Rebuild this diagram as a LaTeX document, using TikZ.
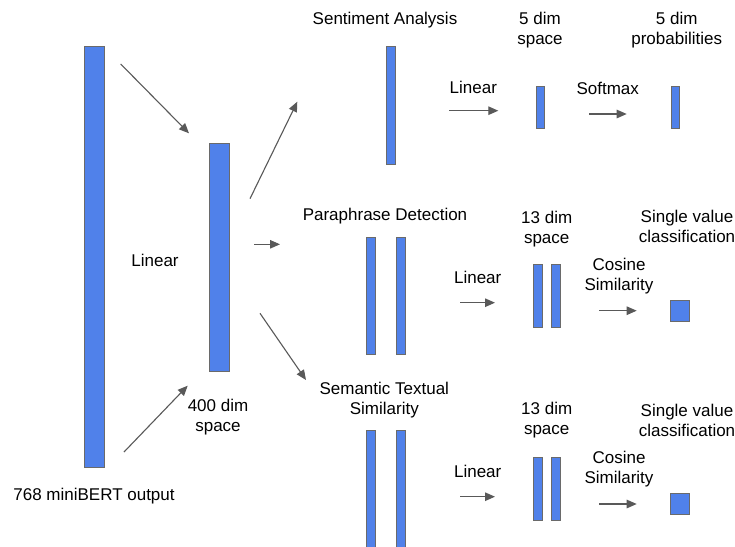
\documentclass[tikz,border=0pt]{standalone}
\usepackage{fontspec}
\setmainfont{Liberation Sans}
\usetikzlibrary{arrows.meta}
\definecolor{barblue}{HTML}{5081EA}
\definecolor{barline}{HTML}{6A6A6A}
\definecolor{arrgray}{HTML}{595959}
\begin{document}
\begin{tikzpicture}[x=1pt,y=-1pt,
  bar/.style={draw=barline,line width=0.9pt,fill=barblue,inner sep=0pt,outer sep=0pt},
  lbl/.style={align=center,inner sep=0pt,font=\fontsize{17}{20}\selectfont},
  arr/.style={draw=arrgray,line width=1.1pt,-{Triangle[length=10pt,width=8.5pt]}}]
\clip (0,0) rectangle (735,546);
\fill[white] (0,0) rectangle (735,546);
% bars
\node[bar,minimum width=20,minimum height=421] (b768) at (94,256.5) {};
\node[bar,minimum width=20,minimum height=228] (b400) at (219,257) {};
\node[bar,minimum width=8.5,minimum height=118] (sa) at (391,105) {};
\node[bar,minimum width=8.7,minimum height=42.7] (saf) at (540.3,107.3) {};
\node[bar,minimum width=8.4,minimum height=42.7] (sap) at (675.5,107.3) {};
\node[bar,minimum width=9,minimum height=117.3] (pd1) at (371.2,295.7) {};
\node[bar,minimum width=9,minimum height=117.3] (pd2) at (400.5,295.7) {};
\node[bar,minimum width=9,minimum height=63] (pda) at (537.8,295.5) {};
\node[bar,minimum width=9,minimum height=63] (pdb) at (555.5,295.5) {};
\node[bar,minimum width=19.3,minimum height=21.4] (pdsq) at (679.7,311) {};
\node[bar,minimum width=9,minimum height=130] (st1) at (371.2,495) {};
\node[bar,minimum width=9,minimum height=130] (st2) at (400.5,495) {};
\node[bar,minimum width=9,minimum height=63.4] (sta) at (537.8,489) {};
\node[bar,minimum width=9,minimum height=63.4] (stb) at (555.5,489) {};
\node[bar,minimum width=19.3,minimum height=21] (stsq) at (679.7,503.8) {};
% labels
\node[lbl] (t768) at (94,496) {768 miniBERT output};
\node[lbl] (tlin0) at (155,260) {Linear};
\node[lbl] (t400) at (218,416.7) {400 dim\\space};
\node[lbl] (tsa) at (385,20) {Sentiment Analysis};
\node[lbl] (tlin1) at (473.3,87) {Linear};
\node[lbl] (t5s) at (540,29.7) {5 dim\\space};
\node[lbl] (tsoft) at (607.7,88) {Softmax};
\node[lbl] (t5p) at (676.7,29.7) {5 dim\\probabilities};
\node[lbl] (tpd) at (385,216) {Paraphrase Detection};
\node[lbl] (tlin2) at (477.7,277.5) {Linear};
\node[lbl] (t13a) at (546.7,229.3) {13 dim\\space};
\node[lbl] (tcos1) at (619,275.7) {Cosine\\Similarity};
\node[lbl] (tsv1) at (687,226.3) {Single value\\classification};
\node[lbl] (tsts) at (384.3,399.7) {Semantic Textual\\Similarity};
\node[lbl] (tlin3) at (477.7,471) {Linear};
\node[lbl] (t13b) at (546.7,420.3) {13 dim\\space};
\node[lbl] (tcos2) at (619,469.3) {Cosine\\Similarity};
\node[lbl] (tsv2) at (687,420.3) {Single value\\classification};
% arrow end points
\coordinate (a1s) at (120.7,64);   \coordinate (a1e) at (189,133.3);
\coordinate (a2s) at (124,452);    \coordinate (a2e) at (187.7,385.7);
\coordinate (a3s) at (250,198.7);  \coordinate (a3e) at (297.3,101.7);
\coordinate (a4s) at (254,244.3);  \coordinate (a4e) at (280,244.3);
\coordinate (a5s) at (260,313.3);  \coordinate (a5e) at (306,380);
\coordinate (a6s) at (449,110.7);  \coordinate (a6e) at (498.3,110.7);
\coordinate (a7s) at (589,114);    \coordinate (a7e) at (626.7,114);
\coordinate (a8s) at (460.3,302.7);\coordinate (a8e) at (495,302.7);
\coordinate (a9s) at (599,310.7);  \coordinate (a9e) at (636.7,310.7);
\coordinate (a10s) at (460.3,496.7);\coordinate (a10e) at (495,496.7);
\coordinate (a11s) at (599,504);   \coordinate (a11e) at (636.7,504);
\foreach \i in {1,...,11} {\draw[arr] (a\i s) -- (a\i e);}
\end{tikzpicture}
\end{document}
